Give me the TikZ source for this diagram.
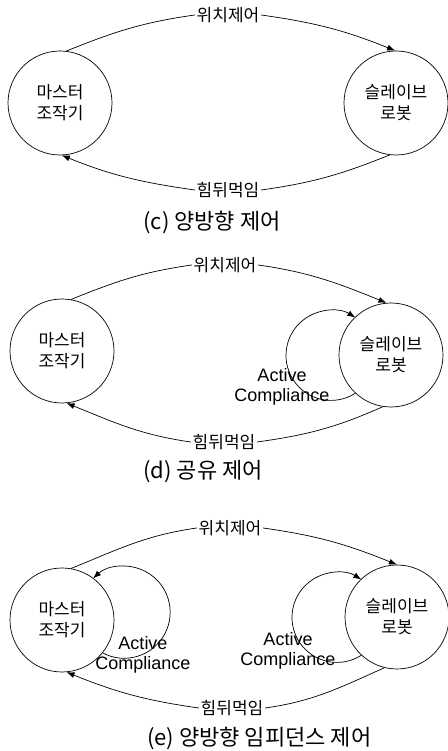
\documentclass[tikz,border=0pt]{standalone}
\usepackage{fontspec}
\setmainfont{Liberation Sans}
\newfontfamily\kr{Noto Sans CJK KR}
\usetikzlibrary{arrows.meta}

\begin{document}
\begin{tikzpicture}[x=1pt,y=1pt,line width=0.7pt,
	unit/.style={draw,circle,minimum size=104pt,inner sep=0pt,align=center,font=\kr\fontsize{17}{21}\selectfont},
	sig/.style={inner sep=1.5pt,font=\kr\fontsize{17}{19}\selectfont},
	ac/.style={align=center,inner sep=0pt,font=\fontsize{18}{20}\selectfont},
	captext/.style={anchor=west,inner sep=0pt,font=\kr\fontsize{22}{26}\selectfont},
	fb/.style={-{Latex[length=8pt,width=6pt]}}]
	\useasboundingbox (0,0) rectangle (447,751);

	% (c) bilateral
	\node[unit] (m1) at (60,648) {마스터\\조작기};
	\node[unit] (s1) at (396,648) {슬레이브\\로봇};
	\node[sig] (p1) at (228,736) {위치제어};
	\node[sig] (f1) at (228,561) {힘뒤먹임};
	\node[captext] (c1) at (143,529) {(c) 양방향 제어};
	\draw (m1.83) to[out=22,in=188] (p1.west);
	\draw[fb] (p1.east) to[out=-8,in=158] (s1.91);
	\draw (s1.263) to[out=202,in=8] (f1.east);
	\draw[fb] (f1.west) to[out=172,in=-22] (m1.272);

	% (d) shared
	\node[unit] (m2) at (62,400) {마스터\\조작기};
	\node[unit] (s2) at (391,396) {슬레이브\\로봇};
	\node[sig] (p2) at (225,486) {위치제어};
	\node[sig] (f2) at (224,309) {힘뒤먹임};
	\node[ac] (a2) at (282,364) {Active\\Compliance};
	\node[captext] (c2) at (143,279) {(d) 공유 제어};
	\draw (m2.80) to[out=22,in=188] (p2.west);
	\draw[fb] (p2.east) to[out=-8,in=158] (s2.95);
	\draw (s2.261) to[out=204,in=8] (f2.east);
	\draw[fb] (f2.west) to[out=172,in=-22] (m2.275);
	\draw[fb] (s2.227) arc[start angle=-57.3,end angle=-302.7,radius=45];

	% (e) bilateral impedance
	\node[unit] (m3) at (62,131) {마스터\\조작기};
	\node[unit] (s3) at (397,134) {슬레이브\\로봇};
	\node[sig] (p3) at (230,223) {위치제어};
	\node[sig] (f3) at (232,43) {힘뒤먹임};
	\node[ac] (a3) at (143,96) {Active\\Compliance};
	\node[ac] (b3) at (288,100) {Active\\Compliance};
	\node[captext] (c3) at (147,13) {(e) 양방향 임피던스 제어};
	\draw (m3.80) to[out=22,in=188] (p3.west);
	\draw[fb] (p3.east) to[out=-8,in=158] (s3.90);
	\draw (s3.256) to[out=204,in=8] (f3.east);
	\draw[fb] (f3.west) to[out=172,in=-22] (m3.275);
	\draw[fb] (m3.-39) arc[start angle=-117.85,end angle=132.55,radius=46];
	\draw[fb] (s3.227) arc[start angle=-57.3,end angle=-302.7,radius=45];

\end{tikzpicture}
\end{document}
